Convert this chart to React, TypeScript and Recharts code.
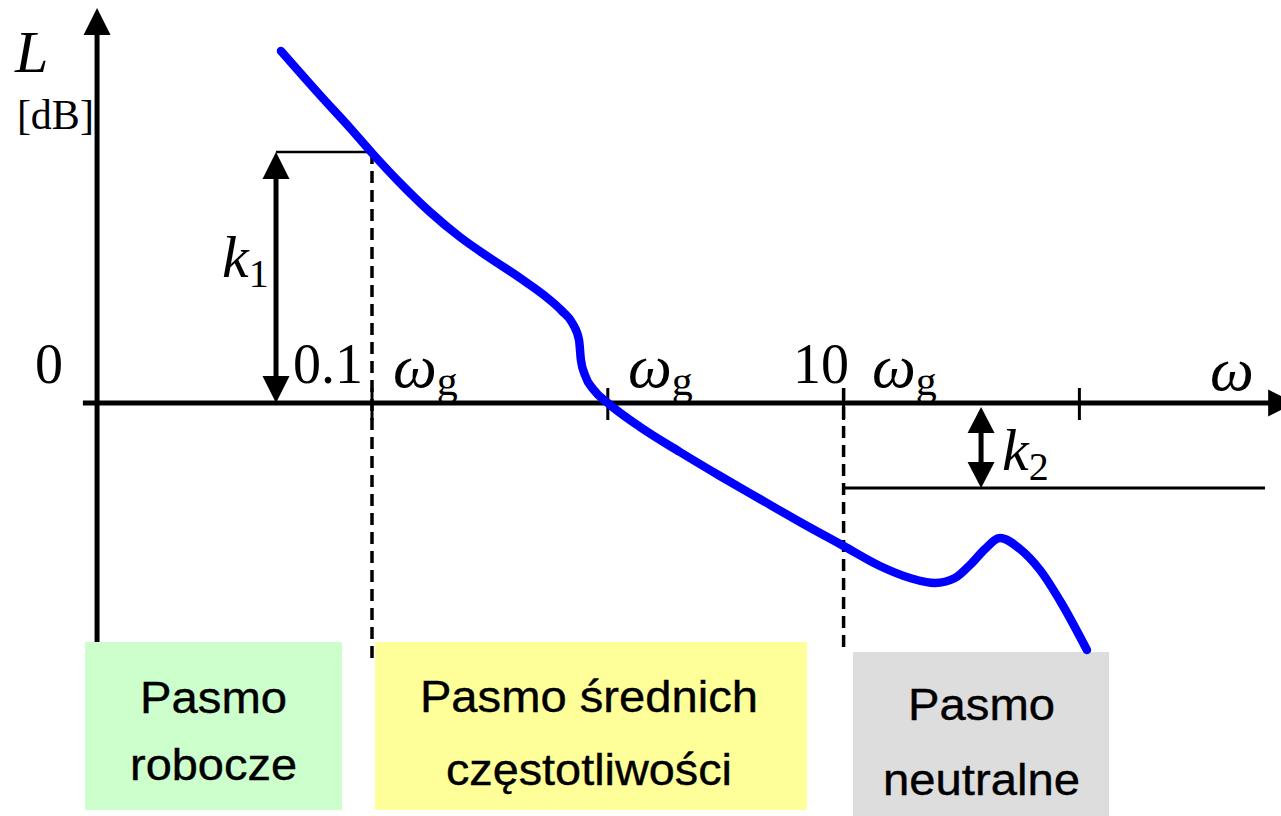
import React from 'react';
import {
  ComposedChart,
  Line,
  XAxis,
  YAxis,
  ReferenceLine,
  ReferenceArea,
  ReferenceDot,
} from 'recharts';

// ---- data (x = log10(omega), L in dB) ----
const curveLogW = [
  -1.386, -1.221, -1.093, -1.0, -0.881, -0.754, -0.627, -0.5, -0.372, -0.266,
  -0.194, -0.148, -0.122, -0.114, -0.097, -0.059, 0.0, 0.137, 0.306, 0.476,
  0.645, 0.815, 1.0, 1.154, 1.282, 1.388, 1.472, 1.536, 1.6, 1.663, 1.748,
  1.833, 1.926, 2.032,
];
const curveL = [
  70.4, 61.6, 55.0, 50.0, 44.0, 38.2, 33.2, 29.0, 25.0, 21.4, 18.4, 15.8, 12.6,
  8.6, 5.6, 2.6, 0.0, -4.8, -9.8, -14.6, -19.2, -23.8, -28.6, -32.6, -35.0,
  -36.0, -35.0, -32.4, -29.2, -27.0, -29.2, -33.4, -40.2, -49.4,
];

const decadeTicks = [-1, 0, 1, 2];
const tickLabels = ['0.1', '10'];
const tickLabelX = [-1.335, 0.785];
const cornerLabels = ['ω', 'ω', 'ω'];
const cornerSub = ['g', 'g', 'g'];
const cornerX = [-0.911, 0.086, 1.12];

const k1Value = 50.2;
const k2Value = -17;

const bandNames = [
  ['Pasmo', 'robocze'],
  ['Pasmo średnich', 'częstotliwości'],
  ['Pasmo', 'neutralne'],
];
const bandX1 = [-2.217, -0.987, 1.04];
const bandX2 = [-1.127, 0.845, 2.126];
const bandTop = [-47.8, -47.8, -49.8];
const bandBottom = [-81.4, -81.4, -82.6];
const bandFill = ['#CCFFCC', '#FFFF99', '#DDDDDD'];

const data = curveLogW.map((x, i) => ({ x, L: curveL[i] }));

const X_DOMAIN: [number, number] = [-2.5776, 2.855];
const Y_DOMAIN: [number, number] = [-82.6, 80.6];

const SERIF = "'Liberation Serif', 'Times New Roman', serif";
const SANS = "'Liberation Sans', Arial, sans-serif";

function arrow(dir: 'up' | 'down' | 'right', len = 27, w = 27) {
  return (p: any) => {
    const { cx, cy } = p;
    let pts = '';
    if (dir === 'up') pts = `${cx},${cy} ${cx - w / 2},${cy + len} ${cx + w / 2},${cy + len}`;
    if (dir === 'down') pts = `${cx},${cy} ${cx - w / 2},${cy - len} ${cx + w / 2},${cy - len}`;
    if (dir === 'right') pts = `${cx},${cy} ${cx - len},${cy - w / 2} ${cx - len},${cy + w / 2}`;
    return <polygon points={pts} fill="#000" />;
  };
}

function serifText(
  main: string,
  size: number,
  italic: boolean,
  sub?: string,
  subSize = 40,
  subDy = 10,
  subItalic = false,
) {
  return (p: any) => (
    <text x={p.cx} y={p.cy} fontFamily={SERIF} fontSize={size} fill="#000">
      <tspan fontStyle={italic ? 'italic' : 'normal'}>{main}</tspan>
      {sub ? (
        <tspan fontSize={subSize} dy={subDy} fontStyle={subItalic ? 'italic' : 'normal'}>
          {sub}
        </tspan>
      ) : null}
    </text>
  );
}

function sansText(t: string, len: number) {
  return (p: any) => (
    <text
      x={p.cx}
      y={p.cy}
      fontFamily={SANS}
      fontSize={44}
      fill="#000"
      stroke="#000"
      strokeWidth={0.4}
      textAnchor="middle"
      textLength={len}
      lengthAdjust="spacingAndGlyphs"
    >
      {t}
    </text>
  );
}

const bandTextWidths = [
  [147, 167],
  [338, 286],
  [147, 197],
];
const bandTextX = [-1.672, -0.08, 1.585];
const bandTextY = [
  [-62.0, -75.4],
  [-61.8, -76.4],
  [-63.4, -78.4],
];

export default function App() {
  return (
    <div style={{ position: 'absolute', left: 0, top: 0, width: 1281, height: 816, background: '#fff' }}>
      <ComposedChart
        width={1281}
        height={816}
        data={data}
        margin={{ top: 0, right: 0, bottom: 0, left: 0 }}
      >
        <XAxis dataKey="x" type="number" domain={X_DOMAIN} hide allowDataOverflow />
        <YAxis type="number" domain={Y_DOMAIN} hide allowDataOverflow />

        {/* band boxes */}
        {bandX1.map((x1, i) => (
          <ReferenceArea
            key={'band' + i}
            x1={x1}
            x2={bandX2[i]}
            y1={bandBottom[i]}
            y2={bandTop[i]}
            fill={bandFill[i]}
            fillOpacity={1}
            stroke="none"
            ifOverflow="visible"
          />
        ))}

        {/* axes */}
        <ReferenceLine
          segment={[{ x: -2.166, y: 74.6 }, { x: -2.166, y: -47.8 }]}
          stroke="#000"
          strokeWidth={5}
          ifOverflow="visible"
        />
        <ReferenceLine
          segment={[{ x: -2.226, y: 0 }, { x: 2.83, y: 0 }]}
          stroke="#000"
          strokeWidth={5}
          ifOverflow="visible"
        />
        <ReferenceDot x={-2.166} y={79.0} ifOverflow="visible" shape={arrow('up')} />
        <ReferenceDot x={2.915} y={0} ifOverflow="visible" shape={arrow('right')} />

        {decadeTicks.map((t) => (
          <ReferenceLine
            key={'tick' + t}
            segment={[{ x: t, y: 3.0 }, { x: t, y: -3.4 }]}
            stroke="#000"
            strokeWidth={3}
            ifOverflow="visible"
          />
        ))}

        {/* dashed band separators */}
        <ReferenceLine
          segment={[{ x: -1, y: k1Value }, { x: -1, y: -51.4 }]}
          stroke="#000"
          strokeWidth={3.5}
          strokeDasharray="12 7"
          ifOverflow="visible"
        />
        <ReferenceLine
          segment={[{ x: 1, y: 3.0 }, { x: 1, y: -49.8 }]}
          stroke="#000"
          strokeWidth={3.5}
          strokeDasharray="12 7"
          ifOverflow="visible"
        />

        {/* k1 */}
        <ReferenceLine
          segment={[{ x: -1.407, y: k1Value }, { x: -1.0, y: k1Value }]}
          stroke="#000"
          strokeWidth={2.5}
          ifOverflow="visible"
        />
        <ReferenceLine
          segment={[{ x: -1.407, y: k1Value - 4 }, { x: -1.407, y: 4 }]}
          stroke="#000"
          strokeWidth={5}
          ifOverflow="visible"
        />
        <ReferenceDot x={-1.407} y={k1Value} ifOverflow="visible" shape={arrow('up')} />
        <ReferenceDot x={-1.407} y={0} ifOverflow="visible" shape={arrow('down')} />

        {/* k2 */}
        <ReferenceLine
          segment={[{ x: 1, y: k2Value }, { x: 2.787, y: k2Value }]}
          stroke="#000"
          strokeWidth={3}
          ifOverflow="visible"
        />
        <ReferenceLine
          segment={[{ x: 1.583, y: -4 }, { x: 1.583, y: k2Value + 4 }]}
          stroke="#000"
          strokeWidth={5}
          ifOverflow="visible"
        />
        <ReferenceDot x={1.583} y={-0.8} ifOverflow="visible" shape={arrow('up', 26, 27)} />
        <ReferenceDot x={1.583} y={k2Value} ifOverflow="visible" shape={arrow('down', 26, 27)} />

        {/* curve */}
        <Line
          dataKey="L"
          type="monotone"
          stroke="#0000FF"
          strokeWidth={8.5}
          strokeLinecap="round"
          strokeLinejoin="round"
          dot={false}
          activeDot={false}
          isAnimationActive={false}
        />

        {/* labels */}
        <ReferenceDot x={-2.514} y={66.2} ifOverflow="visible" shape={serifText('L', 60, true)} />
        <ReferenceDot x={-2.506} y={54.8} ifOverflow="visible" shape={serifText('[dB]', 42, false)} />
        <ReferenceDot x={-2.429} y={4.0} ifOverflow="visible" shape={serifText('0', 56, false)} />
        {tickLabels.map((t, i) => (
          <ReferenceDot
            key={'tl' + i}
            x={tickLabelX[i]}
            y={4.0}
            ifOverflow="visible"
            shape={serifText(t, 56, false)}
          />
        ))}
        {cornerLabels.map((t, i) => (
          <ReferenceDot
            key={'cl' + i}
            x={cornerX[i]}
            y={3.2}
            ifOverflow="visible"
            shape={serifText(t, 62, true, cornerSub[i], 42, 8)}
          />
        ))}
        <ReferenceDot x={2.554} y={2.6} ifOverflow="visible" shape={serifText('ω', 62, true)} />
        <ReferenceDot x={-1.636} y={25.2} ifOverflow="visible" shape={serifText('k', 60, true, '1', 40, 10)} />
        <ReferenceDot x={1.672} y={-13.4} ifOverflow="visible" shape={serifText('k', 60, true, '2', 40, 10)} />

        {bandNames.map((lines, i) =>
          lines.map((t, j) => (
            <ReferenceDot
              key={'bt' + i + '-' + j}
              x={bandTextX[i]}
              y={bandTextY[i][j]}
              ifOverflow="visible"
              shape={sansText(t, bandTextWidths[i][j])}
            />
          )),
        )}
      </ComposedChart>
    </div>
  );
}
